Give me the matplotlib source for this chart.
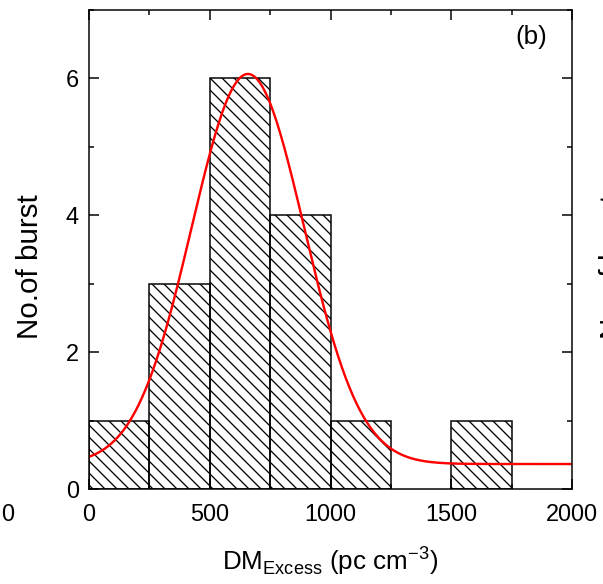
import numpy as np
import matplotlib
matplotlib.use("Agg")
import matplotlib.pyplot as plt
from matplotlib.ticker import MultipleLocator

# histogram of DM excess
bin_edges = [0, 250, 500, 750, 1000, 1250, 1500, 1750]
counts = [1, 3, 6, 4, 1, 0, 1]

# gaussian fit parameters (y0, xc, sigma, A)
fit_y0 = 0.365
fit_xc = 658
fit_sigma = 233
fit_amp = 5.7

x_ticks = [0, 500, 1000, 1500, 2000]
y_ticks = [0, 2, 4, 6]

plt.rcParams['font.family'] = ['Liberation Sans', 'DejaVu Sans']
plt.rcParams['hatch.linewidth'] = 1.3
plt.rcParams['hatch.color'] = 'black'

dpi = 72
fig = plt.figure(figsize=(603 / dpi, 584 / dpi), dpi=dpi)
W, H = 603, 584
ax = fig.add_axes([89 / W, (H - 489) / H, 483 / W, 479 / H])

for left, right, c in zip(bin_edges[:-1], bin_edges[1:], counts):
    if c == 0:
        continue
    ax.bar(left, c, width=right - left, align='edge', facecolor='none',
           edgecolor='black', linewidth=1.5, hatch='\\\\')

xs = np.linspace(0, 2000, 400)
ys = fit_y0 + fit_amp * np.exp(-(xs - fit_xc) ** 2 / (2 * fit_sigma ** 2))
ax.plot(xs, ys, color='red', linewidth=2.4)

ax.set_xlim(0, 2000)
ax.set_ylim(0, 7)
ax.set_xticks(x_ticks)
ax.set_yticks(y_ticks)
ax.xaxis.set_minor_locator(MultipleLocator(250))
ax.yaxis.set_minor_locator(MultipleLocator(1))
ax.tick_params(which='both', direction='in', top=True, right=True,
               width=1.5, labelsize=23.5)
ax.tick_params(axis='x', pad=15)
ax.tick_params(axis='y', pad=10)
ax.tick_params(which='major', length=10)
ax.tick_params(which='minor', length=5)
for s in ax.spines.values():
    s.set_linewidth(1.5)

ax.set_ylabel('No.of burst', fontsize=29.5)
ax.yaxis.set_label_coords(-0.093, 0.4635)
ax.set_xlabel(r'DM$_{\mathregular{Excess}}$ (pc cm$^{\mathregular{-3}}$)', fontsize=26, labelpad=18)
ax.text(0.948, 0.969, '(b)', transform=ax.transAxes, ha='right', va='top', fontsize=26)

# pieces of the neighbouring panels
fig.text(8 / W, 1 - 515 / H, '0', fontsize=23.5, ha='center', va='center')
fig.text(599 / W, 1 - 267 / H, 'No.of burst', fontsize=29.5, rotation=90,
         ha='left', va='center')

fig.savefig('out.png', dpi=dpi)
